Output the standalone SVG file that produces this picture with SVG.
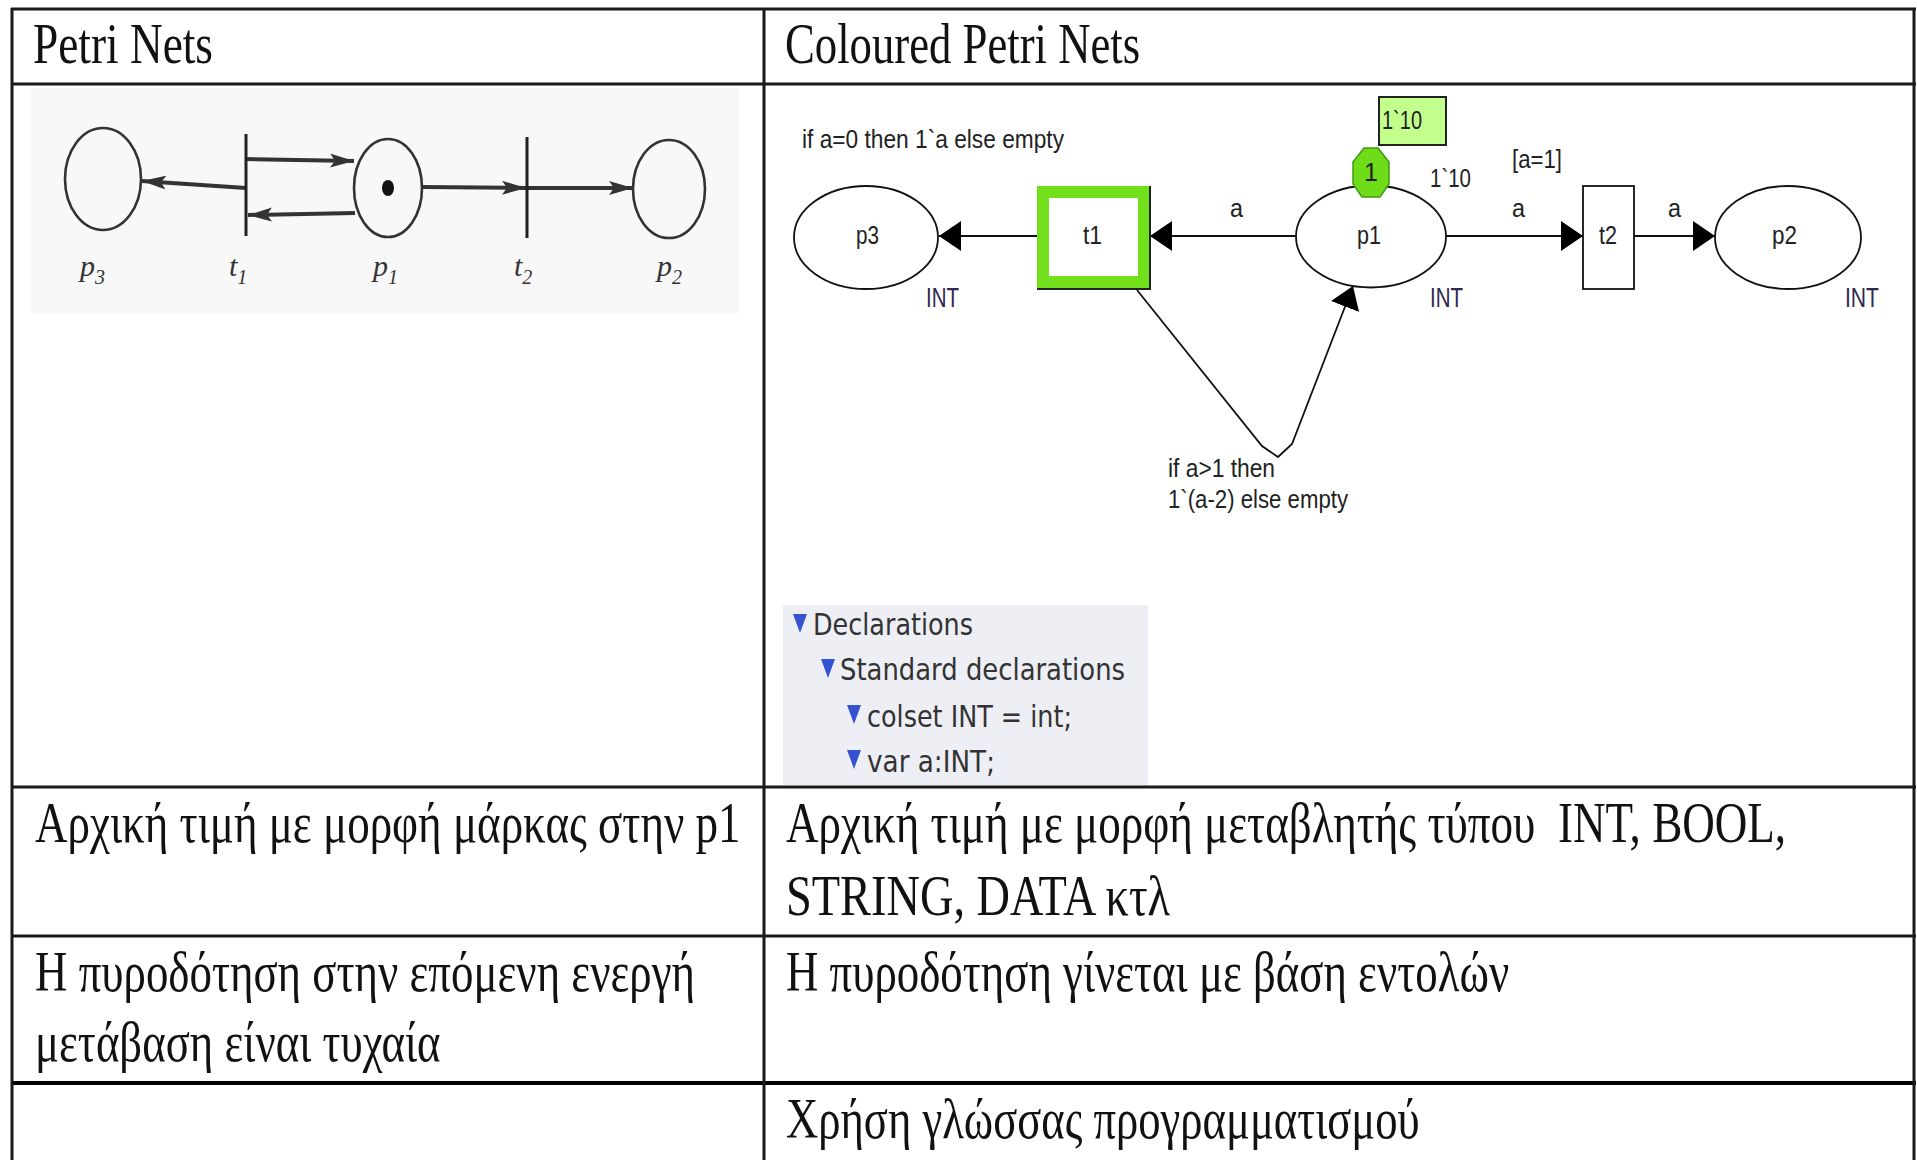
<svg xmlns="http://www.w3.org/2000/svg" width="1917" height="1160" viewBox="0 0 1917 1160">
<style>
.cell{font-family:"Liberation Serif","Times New Roman",serif;font-size:56px;fill:#111}
.lbl{font-family:"Liberation Sans",Arial,sans-serif;font-size:25px;fill:#222}
.typ{font-family:"Liberation Sans",Arial,sans-serif;font-size:28px;fill:#302850}
.decl{font-family:"DejaVu Sans",Verdana,sans-serif;font-size:30px;fill:#333}
.pnl{font-family:"Liberation Serif","Times New Roman",serif;font-style:italic;font-size:30px;fill:#333}
.pnsub{font-size:20px}
.grid{stroke:#1a1a1a;stroke-width:3;fill:none}
.place{fill:#fff;stroke:#111;stroke-width:1.8}
.pnplace{fill:none;stroke:#333;stroke-width:2.6}
.pnarc{stroke:#333;stroke-width:4;fill:none}
.cpnarc{stroke:#111;stroke-width:1.8;fill:none}
.tri{fill:#3552d0}
</style>
<defs>
<marker id="cpnArrow" markerUnits="userSpaceOnUse" markerWidth="24" markerHeight="32" refX="22" refY="15" orient="auto">
<path d="M0,0 L22,15 L0,30 z" fill="#000"/>
</marker>
<marker id="pnArrow" markerUnits="userSpaceOnUse" markerWidth="26" markerHeight="16" refX="24" refY="7" orient="auto">
<path d="M0,0 L24,7 L0,14 L5,7 z" fill="#333"/>
</marker>
</defs>
<rect width="1917" height="1160" fill="#fff"/>

<g id="table">
<line class="grid" x1="11" y1="9" x2="1916" y2="9"/>
<line class="grid" x1="11" y1="84" x2="1916" y2="84"/>
<line class="grid" x1="11" y1="787" x2="1916" y2="787"/>
<line class="grid" x1="11" y1="936" x2="1916" y2="936"/>
<line x1="11" y1="1083" x2="1916" y2="1083" stroke="#000" stroke-width="4"/>
<line class="grid" x1="12" y1="8" x2="12" y2="1160"/>
<line class="grid" x1="764" y1="8" x2="764" y2="1160"/>
<line class="grid" x1="1914" y1="8" x2="1914" y2="1160"/>
</g>

<g id="headers">
<text class="cell" transform="translate(33,63) scale(0.8,1)" textLength="225" lengthAdjust="spacingAndGlyphs">Petri Nets</text>
<text class="cell" transform="translate(785,63) scale(0.8,1)" textLength="444" lengthAdjust="spacingAndGlyphs">Coloured Petri Nets</text>
</g>

<g id="rows">
<text class="cell" transform="translate(35,842) scale(0.8,1)" textLength="882" lengthAdjust="spacingAndGlyphs">Αρχική τιμή με μορφή μάρκας στην p1</text>
<text class="cell" transform="translate(786,842) scale(0.8,1)" textLength="1250" lengthAdjust="spacingAndGlyphs">Αρχική τιμή με μορφή μεταβλητής τύπου&#160; INT, BOOL,</text>
<text class="cell" transform="translate(786,915) scale(0.8,1)" textLength="480" lengthAdjust="spacingAndGlyphs">STRING, DATA κτλ</text>
<text class="cell" transform="translate(35,991) scale(0.8,1)" textLength="825" lengthAdjust="spacingAndGlyphs">Η πυροδότηση στην επόμενη ενεργή</text>
<text class="cell" transform="translate(35,1061) scale(0.8,1)" textLength="507" lengthAdjust="spacingAndGlyphs">μετάβαση είναι τυχαία</text>
<text class="cell" transform="translate(786,991) scale(0.8,1)" textLength="904" lengthAdjust="spacingAndGlyphs">Η πυροδότηση γίνεται με βάση εντολών</text>
<text class="cell" transform="translate(786,1138) scale(0.8,1)" textLength="792" lengthAdjust="spacingAndGlyphs">Χρήση γλώσσας προγραμματισμού</text>
</g>

<!-- Left: classic Petri net -->
<rect x="31" y="88" width="708" height="225" fill="#f8f8f8"/>
<g id="pn-connectors">
<line class="pnarc" x1="246" y1="188" x2="142" y2="181" marker-end="url(#pnArrow)"/>
<line class="pnarc" x1="246" y1="159" x2="354" y2="161" marker-end="url(#pnArrow)"/>
<line class="pnarc" x1="355" y1="213" x2="248" y2="215" marker-end="url(#pnArrow)"/>
<line class="pnarc" x1="422" y1="187" x2="526" y2="188" marker-end="url(#pnArrow)"/>
<line class="pnarc" x1="527" y1="188" x2="633" y2="188" marker-end="url(#pnArrow)"/>
</g>
<g id="pn-p3"><ellipse class="pnplace" cx="103" cy="179" rx="38" ry="51"/>
<text class="pnl" x="80" y="276">p<tspan class="pnsub" dy="8">3</tspan></text></g>
<g id="pn-t1"><line x1="246" y1="134" x2="246" y2="236" stroke="#222" stroke-width="3"/>
<text class="pnl" x="229" y="276">t<tspan class="pnsub" dy="8">1</tspan></text></g>
<g id="pn-p1"><ellipse class="pnplace" cx="388" cy="188" rx="34" ry="49"/>
<ellipse cx="388" cy="188" rx="6" ry="8" fill="#111"/>
<text class="pnl" x="373" y="276">p<tspan class="pnsub" dy="8">1</tspan></text></g>
<g id="pn-t2"><line x1="527" y1="137" x2="527" y2="238" stroke="#222" stroke-width="3"/>
<text class="pnl" x="514" y="276">t<tspan class="pnsub" dy="8">2</tspan></text></g>
<g id="pn-p2"><ellipse class="pnplace" cx="669" cy="189" rx="36" ry="49"/>
<text class="pnl" x="657" y="276">p<tspan class="pnsub" dy="8">2</tspan></text></g>

<!-- Right: Coloured Petri net -->
<g id="cpn-connectors">
<line class="cpnarc" x1="1037" y1="236" x2="939" y2="236" marker-end="url(#cpnArrow)"/>
<line class="cpnarc" x1="1296" y1="236" x2="1150" y2="236" marker-end="url(#cpnArrow)"/>
<line class="cpnarc" x1="1446" y1="236" x2="1583" y2="236" marker-end="url(#cpnArrow)"/>
<line class="cpnarc" x1="1634" y1="236" x2="1715" y2="236" marker-end="url(#cpnArrow)"/>
<polyline class="cpnarc" points="1137,290 1262,446 1278,457 1292,444 1353,286" marker-end="url(#cpnArrow)"/>
<text class="lbl" x="802" y="148" textLength="262" lengthAdjust="spacingAndGlyphs">if a=0 then 1`a else empty</text>
<text class="lbl" x="1230" y="217" font-size="27" textLength="13" lengthAdjust="spacingAndGlyphs">a</text>
<text class="lbl" x="1512" y="217" font-size="27" textLength="13" lengthAdjust="spacingAndGlyphs">a</text>
<text class="lbl" x="1668" y="217" font-size="27" textLength="13" lengthAdjust="spacingAndGlyphs">a</text>
<text class="lbl" x="1168" y="477" textLength="107" lengthAdjust="spacingAndGlyphs">if a&gt;1 then</text>
<text class="lbl" x="1168" y="508" textLength="180" lengthAdjust="spacingAndGlyphs">1`(a-2) else empty</text>
</g>
<g id="cpn-p3"><ellipse class="place" cx="866" cy="237.5" rx="72" ry="51.5"/>
<text class="lbl" x="856" y="244" textLength="23" lengthAdjust="spacingAndGlyphs">p3</text>
<text class="typ" x="926" y="307" textLength="33" lengthAdjust="spacingAndGlyphs">INT</text></g>
<g id="cpn-t1"><rect x="1043" y="192" width="101" height="90" fill="#fff" stroke="#72e01a" stroke-width="12"/>
<polyline points="1150,186 1150,289 1037,289" fill="none" stroke="#222" stroke-width="2"/>
<text class="lbl" x="1083" y="244" textLength="19" lengthAdjust="spacingAndGlyphs">t1</text></g>
<g id="cpn-p1"><ellipse class="place" cx="1371" cy="236.5" rx="75" ry="51"/>
<text class="lbl" x="1357" y="244" textLength="24" lengthAdjust="spacingAndGlyphs">p1</text>
<text class="typ" x="1430" y="307" textLength="33" lengthAdjust="spacingAndGlyphs">INT</text>
<text class="lbl" x="1430" y="187" textLength="41" lengthAdjust="spacingAndGlyphs">1`10</text>
<polygon points="1364,148 1378,148 1389,162 1389,184 1380,197 1362,197 1353,184 1353,162" fill="#6fdc1a" stroke="#3f9a12" stroke-width="1.5"/>
<text class="lbl" x="1371" y="181" font-size="22" text-anchor="middle">1</text>
<rect x="1379" y="97" width="67" height="48" fill="#c2ff8c" stroke="#222" stroke-width="2"/>
<text class="lbl" x="1382" y="129" textLength="40" lengthAdjust="spacingAndGlyphs">1`10</text></g>
<g id="cpn-t2"><rect x="1583" y="186" width="51" height="103" fill="#fff" stroke="#111" stroke-width="1.8"/>
<text class="lbl" x="1599" y="244" textLength="18" lengthAdjust="spacingAndGlyphs">t2</text>
<text class="lbl" x="1512" y="168" textLength="50" lengthAdjust="spacingAndGlyphs">[a=1]</text></g>
<g id="cpn-p2"><ellipse class="place" cx="1788" cy="237.5" rx="73" ry="51.5"/>
<text class="lbl" x="1772" y="244" textLength="25" lengthAdjust="spacingAndGlyphs">p2</text>
<text class="typ" x="1845" y="307" textLength="34" lengthAdjust="spacingAndGlyphs">INT</text></g>

<g id="declarations">
<rect x="783" y="605" width="365" height="180" fill="#eeeef5"/>
<polygon class="tri" points="793,614 807,614 800,633"/>
<text class="decl" x="813" y="635" textLength="160" lengthAdjust="spacingAndGlyphs">Declarations</text>
<polygon class="tri" points="821,659 835,659 828,678"/>
<text class="decl" x="840" y="680" textLength="285" lengthAdjust="spacingAndGlyphs">Standard declarations</text>
<polygon class="tri" points="847,705 861,705 854,724"/>
<text class="decl" x="867" y="727" textLength="205" lengthAdjust="spacingAndGlyphs">colset INT = int;</text>
<polygon class="tri" points="847,750 861,750 854,769"/>
<text class="decl" x="867" y="772" textLength="128" lengthAdjust="spacingAndGlyphs">var a:INT;</text>
</g>
</svg>
